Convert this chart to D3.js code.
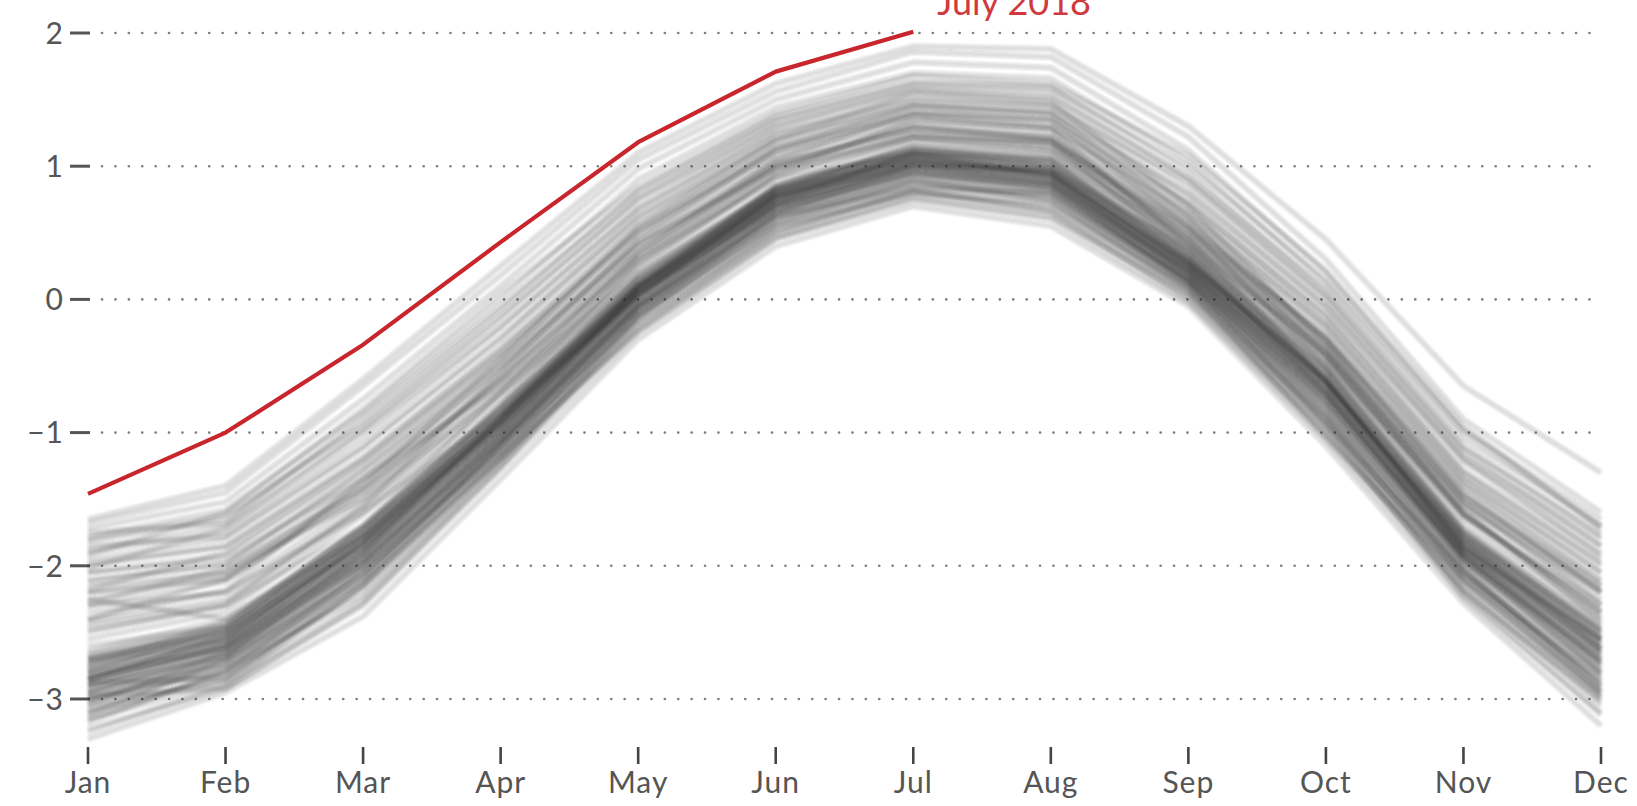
<!DOCTYPE html>
<html>
<head>
<meta charset="utf-8">
<script src="https://cdn.jsdelivr.net/npm/d3@7"></script>
<style>
	body { margin: 0; background: #fff; }
	svg { display: block; font-family: Lato, "Open Sans", sans-serif; }
	.grid line { stroke: #808080; stroke-width: 2.6; stroke-dasharray: 0.1 13.3; stroke-linecap: round; }
	.year { fill: none; stroke: #262626; stroke-opacity: 0.155; stroke-width: 5.5; stroke-linejoin: round; }
	.current { fill: none; stroke: #c8262c; stroke-width: 4.2; stroke-linejoin: round; }
	.tick-label { fill: #555; font-size: 30px; letter-spacing: 1px; }
</style>
</head>
<body>
<div class="chart-wrapper"></div>
<script>

const months = ['Jan','Feb','Mar','Apr','May','Jun','Jul','Aug','Sep','Oct','Nov','Dec']
const yTicks = [2, 1, 0, -1, -2, -3]

// 2018, Jan to Jul
const current = [-1.46, -1.0, -0.34, 0.43, 1.18, 1.71, 2.01]
const currentLabel = 'July 2018'

// earlier years, one row per year, Jan to Dec
const pastYears = [
	[-3.30,-2.95,-2.38,-1.35,-0.30,0.40,0.70,0.55,-0.05,-1.10,-2.28,-3.20],
	[-3.22,-2.92,-2.30,-1.28,-0.25,0.45,0.74,0.60,-0.02,-1.05,-2.22,-3.10],
	[-3.15,-2.88,-2.25,-1.24,-0.20,0.48,0.78,0.65,0.02,-1.00,-2.18,-3.02],
	[-3.10,-2.82,-2.18,-1.20,-0.22,0.52,0.82,0.68,0.05,-0.98,-2.12,-2.95],
	[-3.05,-2.86,-2.15,-1.15,-0.16,0.55,0.80,0.72,0.08,-0.94,-2.15,-2.98],
	[-3.02,-2.78,-2.10,-1.18,-0.12,0.58,0.86,0.74,0.06,-0.90,-2.08,-2.90],
	[-3.08,-2.75,-2.12,-1.10,-0.10,0.56,0.88,0.78,0.12,-0.92,-2.05,-2.88],
	[-2.98,-2.80,-2.05,-1.12,-0.14,0.62,0.84,0.76,0.10,-0.88,-2.10,-2.85],
	[-3.00,-2.70,-2.08,-1.08,-0.06,0.60,0.90,0.80,0.14,-0.86,-2.02,-2.92],
	[-2.95,-2.74,-2.02,-1.14,-0.08,0.64,0.92,0.82,0.16,-0.84,-2.06,-2.82],
	[-2.92,-2.68,-1.98,-1.05,-0.04,0.66,0.95,0.84,0.18,-0.78,-1.98,-2.78],
	[-2.90,-2.62,-1.95,-1.02,0.00,0.68,0.98,0.88,0.20,-0.75,-1.95,-2.74],
	[-2.88,-2.65,-1.92,-1.00,-0.02,0.70,0.96,0.86,0.22,-0.72,-1.96,-2.70],
	[-2.85,-2.60,-1.90,-0.98,0.02,0.72,1.00,0.90,0.20,-0.70,-1.92,-2.68],
	[-2.86,-2.58,-1.88,-1.00,0.04,0.70,1.02,0.92,0.24,-0.68,-1.90,-2.72],
	[-2.82,-2.56,-1.86,-0.96,0.05,0.74,1.04,0.94,0.25,-0.66,-1.88,-2.64],
	[-2.80,-2.58,-1.84,-0.94,0.06,0.76,1.03,0.92,0.26,-0.64,-1.86,-2.62],
	[-2.78,-2.52,-1.82,-0.92,0.08,0.75,1.06,0.96,0.28,-0.62,-1.84,-2.60],
	[-2.84,-2.54,-1.80,-0.95,0.04,0.78,1.05,0.95,0.24,-0.65,-1.82,-2.58],
	[-2.76,-2.50,-1.85,-0.90,0.10,0.78,1.08,0.98,0.30,-0.60,-1.85,-2.56],
	[-2.74,-2.55,-1.78,-0.92,0.06,0.80,1.07,0.97,0.27,-0.58,-1.80,-2.62],
	[-2.72,-2.48,-1.80,-0.88,0.12,0.80,1.10,1.00,0.30,-0.62,-1.78,-2.54],
	[-2.80,-2.46,-1.76,-0.86,0.10,0.82,1.08,1.02,0.32,-0.56,-1.80,-2.50],
	[-2.70,-2.50,-1.74,-0.90,0.14,0.82,1.12,1.00,0.34,-0.55,-1.76,-2.52],
	[-2.68,-2.44,-1.76,-0.84,0.12,0.84,1.10,1.04,0.30,-0.54,-1.78,-2.48],
	[-2.75,-2.42,-1.72,-0.86,0.16,0.84,1.14,1.02,0.36,-0.52,-1.74,-2.50],
	[-2.66,-2.46,-1.70,-0.82,0.15,0.86,1.12,1.05,0.34,-0.50,-1.72,-2.46],
	[-2.64,-2.40,-1.72,-0.80,0.18,0.85,1.15,1.06,0.38,-0.52,-1.75,-2.44],
	[-2.90,-2.60,-1.94,-1.04,-0.02,0.68,0.97,0.87,0.19,-0.74,-1.94,-2.76],
	[-2.94,-2.64,-1.96,-1.06,-0.05,0.65,0.94,0.84,0.16,-0.77,-1.97,-2.80],
	[-2.82,-2.62,-1.90,-0.97,0.03,0.72,1.00,0.89,0.22,-0.70,-1.90,-2.66],
	[-2.78,-2.56,-1.86,-0.95,0.06,0.74,1.02,0.93,0.24,-0.66,-1.87,-2.62],
	[-2.86,-2.52,-1.84,-0.93,0.08,0.76,1.04,0.94,0.26,-0.63,-1.85,-2.64],
	[-2.72,-2.54,-1.82,-0.91,0.09,0.77,1.06,0.95,0.28,-0.61,-1.83,-2.58],
	[-2.96,-2.66,-2.00,-1.07,-0.06,0.64,0.93,0.82,0.15,-0.80,-2.00,-2.82],
	[-2.70,-2.48,-1.78,-0.88,0.11,0.79,1.09,0.99,0.31,-0.59,-1.79,-2.55],
	[-2.55,-2.35,-1.62,-0.74,0.25,0.92,1.20,1.12,0.42,-0.45,-1.65,-2.38],
	[-2.48,-2.30,-1.58,-0.70,0.28,0.95,1.22,1.15,0.45,-0.42,-1.62,-2.34],
	[-2.42,-2.25,-1.55,-0.66,0.32,0.98,1.25,1.18,0.48,-0.40,-1.60,-2.30],
	[-2.35,-2.20,-1.50,-0.62,0.36,1.02,1.28,1.20,0.52,-0.36,-1.55,-2.25],
	[-2.30,-2.12,-1.45,-0.58,0.40,1.05,1.32,1.25,0.55,-0.32,-1.52,-2.20],
	[-2.25,-2.08,-1.40,-0.54,0.44,1.08,1.35,1.28,0.60,-0.30,-1.48,-2.15],
	[-2.20,-2.05,-1.35,-0.50,0.48,1.12,1.38,1.30,0.62,-0.26,-1.45,-2.10],
	[-2.12,-1.98,-1.30,-0.45,0.52,1.15,1.42,1.34,0.66,-0.22,-1.40,-2.05],
	[-2.05,-1.92,-1.25,-0.40,0.56,1.18,1.45,1.38,0.70,-0.18,-1.36,-2.00],
	[-2.00,-1.86,-1.20,-0.35,0.60,1.22,1.48,1.42,0.74,-0.15,-1.32,-1.95],
	[-1.95,-1.80,-1.12,-0.30,0.65,1.26,1.52,1.46,0.78,-0.10,-1.28,-1.90],
	[-1.90,-1.75,-1.05,-0.22,0.70,1.30,1.56,1.50,0.84,-0.05,-1.22,-1.85],
	[-1.88,-1.70,-0.98,-0.15,0.76,1.34,1.60,1.55,0.90,0.00,-1.18,-1.80],
	[-1.82,-1.65,-0.92,-0.08,0.82,1.38,1.64,1.60,0.96,0.05,-1.12,-1.75],
	[-1.78,-1.58,-0.85,0.00,0.90,1.44,1.70,1.66,1.04,0.12,-1.05,-1.70],
	[-1.72,-1.52,-0.75,0.10,0.98,1.50,1.78,1.74,1.12,0.20,-0.98,-1.65],
	[-1.68,-1.45,-0.65,0.18,1.05,1.56,1.86,1.82,1.22,0.30,-0.90,-1.60],
	[-1.65,-1.40,-0.60,0.25,1.10,1.62,1.90,1.88,1.30,0.45,-0.65,-1.30],
	[-2.30,-2.20,-1.60,-0.85,0.05,0.68,0.95,0.85,0.15,-0.75,-1.95,-2.80],
	[-2.15,-2.05,-1.50,-0.70,0.15,0.78,1.00,0.88,0.20,-0.72,-1.92,-2.74],
	[-2.40,-2.10,-1.45,-0.60,0.30,0.90,1.10,0.92,0.18,-0.80,-2.02,-2.90],
	[-2.05,-1.95,-1.35,-0.65,0.20,0.82,1.05,0.96,0.28,-0.60,-1.88,-2.55],
	[-2.50,-2.30,-1.70,-0.80,0.10,0.72,0.98,0.86,0.12,-0.82,-2.05,-2.95],
	[-2.25,-2.40,-1.78,-0.88,0.02,0.70,1.02,0.90,0.22,-0.70,-1.92,-2.70],
	[-3.10,-2.85,-2.10,-1.10,-0.05,0.72,1.10,1.05,0.40,-0.45,-1.60,-2.35],
	[-3.00,-2.75,-2.02,-1.02,0.02,0.80,1.18,1.12,0.48,-0.38,-1.55,-2.20],
	[-3.15,-2.80,-2.05,-1.15,-0.10,0.65,1.00,0.98,0.38,-0.48,-1.62,-2.30],
	[-2.95,-2.70,-1.95,-1.00,0.08,0.85,1.22,1.15,0.52,-0.30,-1.48,-2.15],
	[-3.05,-2.65,-1.98,-1.05,0.00,0.76,1.12,1.08,0.45,-0.42,-1.58,-2.42],
	[-2.85,-2.62,-1.90,-0.92,0.10,0.82,1.15,1.10,0.42,-0.40,-1.52,-2.28],
	[-2.70,-2.50,-1.75,-0.78,0.30,1.00,1.30,1.22,0.45,-0.60,-1.82,-2.55],
	[-2.85,-2.60,-1.82,-0.82,0.25,0.95,1.35,1.28,0.40,-0.62,-1.88,-2.66],
	[-2.60,-2.45,-1.70,-0.70,0.35,1.05,1.40,1.35,0.55,-0.50,-1.75,-2.48],
	[-2.90,-2.68,-1.90,-0.88,0.20,0.92,1.25,1.18,0.35,-0.70,-1.92,-2.72],
	[-2.20,-2.10,-1.40,-0.45,0.55,1.20,1.55,1.48,0.70,-0.35,-1.62,-2.35],
	[-2.45,-2.28,-1.55,-0.55,0.45,1.12,1.45,1.40,0.62,-0.42,-1.70,-2.40],
	[-2.40,-2.18,-1.35,-0.52,0.40,1.02,1.28,1.22,0.58,-0.30,-1.45,-2.20],
	[-2.10,-2.00,-1.28,-0.48,0.42,0.98,1.22,1.18,0.55,-0.28,-1.40,-2.12],
	[-2.28,-2.02,-1.42,-0.60,0.35,1.00,1.30,1.20,0.50,-0.35,-1.50,-2.18],
	[-1.98,-1.85,-1.18,-0.38,0.52,1.10,1.38,1.30,0.65,-0.20,-1.35,-2.05],
	[-2.18,-1.90,-1.22,-0.42,0.50,1.14,1.40,1.35,0.72,-0.12,-1.30,-1.98],
	[-1.85,-1.78,-1.10,-0.28,0.62,1.20,1.46,1.40,0.80,-0.05,-1.20,-1.92],
	[-2.02,-1.72,-1.00,-0.20,0.68,1.25,1.50,1.45,0.88,0.02,-1.15,-1.85],
	[-1.80,-1.62,-0.95,-0.12,0.75,1.30,1.58,1.52,0.92,0.08,-1.10,-1.78],
	[-1.75,-1.68,-0.88,-0.05,0.80,1.35,1.62,1.58,1.00,0.15,-1.00,-1.70],
	[-1.92,-1.60,-0.82,0.05,0.85,1.40,1.68,1.62,1.08,0.22,-0.95,-1.72],
	[-3.18,-2.78,-2.22,-1.22,-0.18,0.50,0.82,0.66,0.00,-1.02,-2.18,-3.05],
	[-3.25,-2.90,-2.15,-1.18,-0.24,0.46,0.76,0.62,0.04,-0.96,-2.24,-3.12],
	[-2.98,-2.92,-2.28,-1.26,-0.14,0.52,0.80,0.70,0.08,-1.04,-2.10,-2.98],
	[-3.12,-2.70,-2.00,-1.10,-0.08,0.60,0.90,0.74,0.10,-0.90,-2.20,-3.00],
	[-2.88,-2.84,-2.14,-1.20,-0.12,0.56,0.84,0.80,0.12,-0.94,-2.04,-2.86],
	[-3.02,-2.72,-2.06,-1.08,-0.04,0.62,0.88,0.78,0.14,-0.86,-2.12,-2.94]
]

const width = 1637
const height = 806

const x = d3.scalePoint()
.domain(months)
.range([88, 1601])

const y = d3.scaleLinear()
.domain([-3, 2])
.range([699, 33])

const line = d3.line()
.x((d, i) => x(months[i]))
.y(d => y(d))

const svg = d3.select('.chart-wrapper')
.append('svg')
.attr('width', width)
.attr('height', height)

svg.append('defs')
.append('filter')
.attr('id', 'soft')
.append('feGaussianBlur')
.attr('stdDeviation', 0.8)

// dotted gridlines + left ticks
svg.append('g')
.attr('class', 'grid')
.selectAll('line')
.data(yTicks)
.enter()
.append('line')
.attr('x1', 102)
.attr('x2', 1595)
.attr('y1', d => y(d))
.attr('y2', d => y(d))

const yAxis = svg.append('g')

yAxis.selectAll('line')
.data(yTicks)
.enter()
.append('line')
.attr('x1', 70)
.attr('x2', 90)
.attr('y1', d => y(d))
.attr('y2', d => y(d))
.attr('stroke', '#555')
.attr('stroke-width', 3)

yAxis.selectAll('text')
.data(yTicks)
.enter()
.append('text')
.attr('class', 'tick-label')
.attr('x', 64)
.attr('y', d => y(d))
.attr('dy', '0.36em')
.attr('text-anchor', 'end')
.text(d => d < 0 ? '\u2212' + Math.abs(d) : d)

// past years
svg.append('g')
.attr('filter', 'url(#soft)')
.selectAll('path')
.data(pastYears)
.enter()
.append('path')
.attr('class', 'year')
.attr('d', line)

// this year
svg.append('path')
.datum(current)
.attr('class', 'current')
.attr('d', line)

svg.append('text')
.attr('x', x('Jul') + 24)
.attr('y', 15)
.attr('fill', '#d0393e')
.attr('font-size', 36)
.text(currentLabel)

// month axis
const xAxis = svg.append('g')

xAxis.selectAll('line')
.data(months)
.enter()
.append('line')
.attr('x1', d => x(d))
.attr('x2', d => x(d))
.attr('y1', 747)
.attr('y2', 764)
.attr('stroke', '#444')
.attr('stroke-width', 2.6)

xAxis.selectAll('text')
.data(months)
.enter()
.append('text')
.attr('class', 'tick-label')
.attr('x', d => x(d))
.attr('y', 793)
.attr('text-anchor', 'middle')
.text(d => d)

</script>
</body>
</html>
